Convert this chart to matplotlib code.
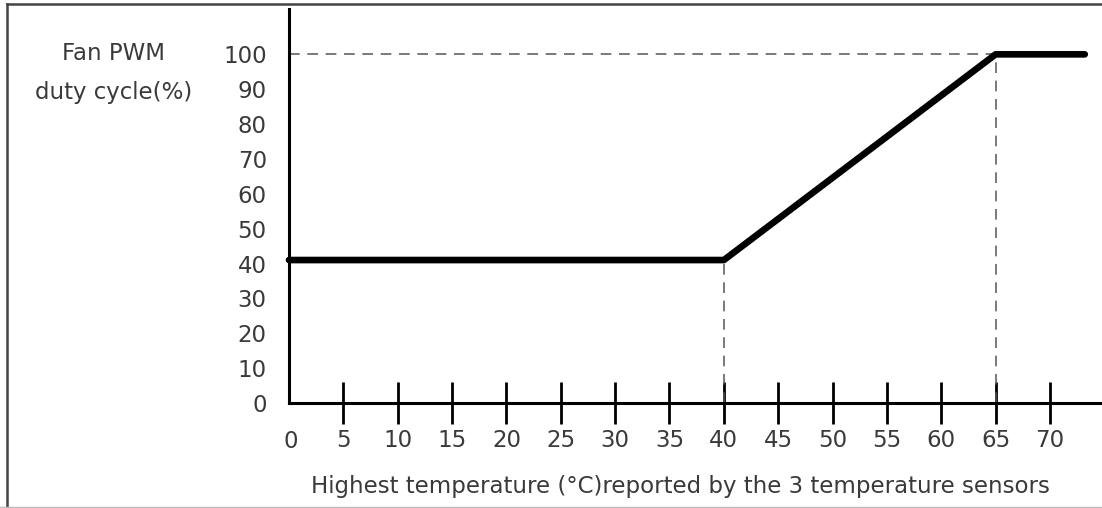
import matplotlib.pyplot as plt
from matplotlib.lines import Line2D

# Fan curve: duty cycle vs highest sensor temperature
temp = [0, 40, 65, 73.2]
duty = [41, 41, 100, 100]

x_ticks = [5, 10, 15, 20, 25, 30, 35, 40, 45, 50, 55, 60, 65, 70]
x_labels = ['5', '10', '15', '20', '25', '30', '35', '40', '45', '50', '55', '60', '65', '70']
y_ticks = [0, 10, 20, 30, 40, 50, 60, 70, 80, 90, 100]

# reference guides
knee_x = [40, 65]
top_y = 100

plt.rcParams['font.family'] = ['DejaVu Sans']
FS = 16.5
TXT = '#3a3a3a'

W, H = 1102, 508
fig = plt.figure(figsize=(W / 100, H / 100), dpi=100)

# axes box in pixels: x 289..1100, y 9..403
ax = fig.add_axes([289 / W, (H - 403) / H, (1100 - 289) / W, (403 - 9) / H])
ax.set_xlim(0, 74.6)
ax.set_ylim(0, 113)

for s in ['top', 'right']:
    ax.spines[s].set_visible(False)
for s in ['left', 'bottom']:
    ax.spines[s].set_linewidth(2.2)
    ax.spines[s].set_color('black')

# dashed guides
dash = dict(color='#555555', lw=1.1, dashes=(7, 5))
ax.plot([0, 65], [top_y, top_y], **dash)
ax.plot([knee_x[0], knee_x[0]], [0, duty[1]], **dash)
ax.plot([knee_x[1], knee_x[1]], [0, top_y], **dash)

ax.plot(temp, duty, color='black', lw=4.8, solid_capstyle='round',
        solid_joinstyle='round', clip_on=False, zorder=5)

ax.set_xticks(x_ticks)
ax.set_xticklabels(x_labels)
ax.tick_params(axis='x', direction='inout', length=30, width=2, pad=3.5,
               labelsize=FS, labelcolor=TXT)
ax.set_yticks(y_ticks)
ax.tick_params(axis='y', length=0, pad=16, labelsize=FS, labelcolor=TXT)

# the 0 on the x axis has no tick mark, only a label
fig.text(291 / W, 1 - 439 / H, '0', ha='center', va='center_baseline', fontsize=FS, color=TXT)

fig.text(114 / W, 1 - 54 / H, 'Fan PWM', ha='center', va='center', fontsize=FS, color=TXT)
fig.text(114 / W, 1 - 92 / H, 'duty cycle(%)', ha='center', va='center', fontsize=FS, color=TXT)
fig.text(680 / W, 1 - 487 / H, 'Highest temperature (°C)reported by the 3 temperature sensors',
         ha='center', va='center', fontsize=FS, color=TXT)

# outer frame
fig.add_artist(Line2D([6.5 / W, 6.5 / W], [0, 1 - 3.5 / H], color='#444444', lw=1.8))
fig.add_artist(Line2D([6.5 / W, 1], [1 - 3.5 / H, 1 - 3.5 / H], color='#444444', lw=1.8))
fig.add_artist(Line2D([0, 1], [1 - 507 / H, 1 - 507 / H], color='#bbbbbb', lw=1))

fig.savefig('out.png', dpi=100)
